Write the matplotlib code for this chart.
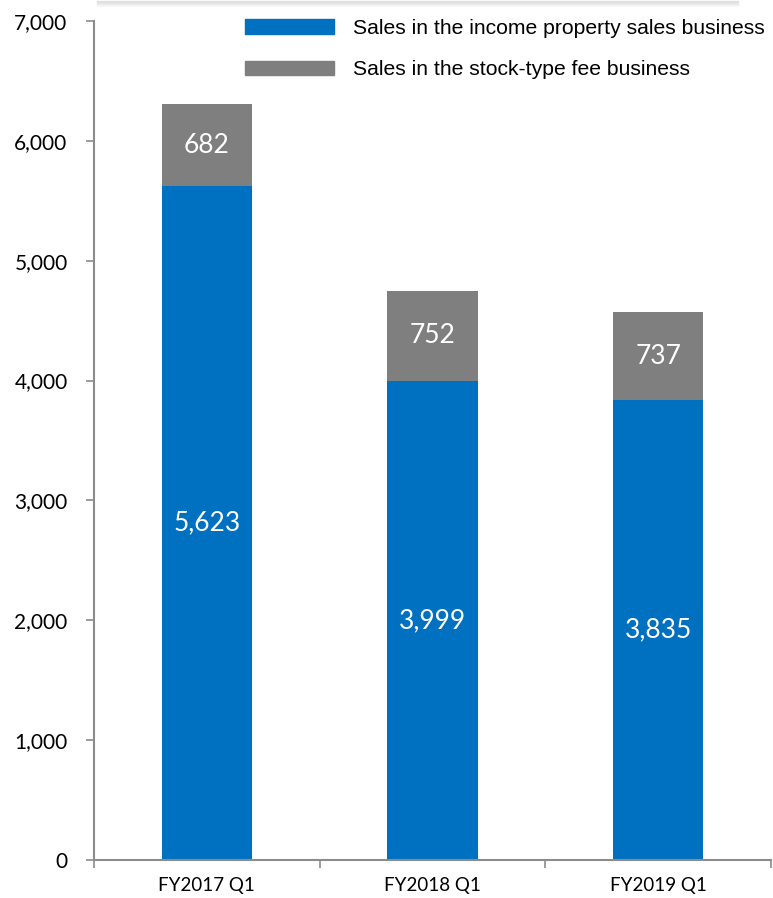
import numpy as np
import matplotlib.pyplot as plt
from matplotlib.patches import Patch

# quarterly sales (million yen)
quarters = ['FY2017 Q1', 'FY2018 Q1', 'FY2019 Q1']
income_property = [5623, 3999, 3835]
stock_fee = [682, 752, 737]
series_names = ['Sales in the income property sales business',
                'Sales in the stock-type fee business']

BLUE = '#0070c0'
GRAY = '#7f7f7f'
AXIS = '#8c8c8c'

fig = plt.figure(figsize=(7.73, 8.98), dpi=100)
ax = fig.add_axes([0.1216, 0.0423, 0.8758, 0.9343])

x = np.arange(len(quarters))
w = 0.4
ax.bar(x, income_property, w, color=BLUE)
ax.bar(x, stock_fee, w, bottom=income_property, color=GRAY)

# value labels in the middle of each segment
for i in range(len(quarters)):
    ax.text(x[i], income_property[i] / 2, f'{income_property[i]:,}',
            ha='center', va='center', color='white', fontsize=19, family='Lato')
    ax.text(x[i], income_property[i] + stock_fee[i] / 2, f'{stock_fee[i]:,}',
            ha='center', va='center', color='white', fontsize=19, family='Lato')

ax.set_xlim(-0.5, len(quarters) - 0.5)
ax.set_ylim(0, 7000)
ax.set_yticks(range(0, 7001, 1000))
ax.set_yticklabels([f'{v:,}' for v in range(0, 7001, 1000)], family='Lato', fontsize=15)

# category boundaries carry the ticks, labels sit at centres
ax.set_xticks(np.arange(-0.5, len(quarters), 1.0))
ax.set_xticklabels([])
ax.set_xticks(x, minor=True)
ax.set_xticklabels(quarters, minor=True, family='Lato', fontsize=13.5)
ax.tick_params(axis='x', which='minor', length=0, pad=12)
ax.tick_params(axis='x', which='major', length=6, width=1.2, color=AXIS)
ax.tick_params(axis='y', length=6, width=1.2, color=AXIS, pad=13)

for side in ['top', 'right']:
    ax.spines[side].set_visible(False)
for side in ['left', 'bottom']:
    ax.spines[side].set_color(AXIS)
    ax.spines[side].set_linewidth(1.5)

handles = [Patch(color=BLUE), Patch(color=GRAY)]
fig.legend(handles, series_names, loc='upper left',
           bbox_to_anchor=(245 / 773, 1 - 19 / 898), bbox_transform=fig.transFigure,
           frameon=False, prop={'family': 'Liberation Sans', 'size': 15.2},
           handlelength=4.2, handleheight=0.66, handletextpad=0.9, labelspacing=1.05,
           borderpad=0, borderaxespad=0)

# faint shadow of the box above the chart
for k in range(6):
    fig.add_artist(plt.Line2D([0.125, 0.955], [1 - (k + 0.5) / 898] * 2,
                              color='#b0b0b0', alpha=0.35 * (1 - k / 6), lw=1))

fig.savefig('out.png', dpi=100)
